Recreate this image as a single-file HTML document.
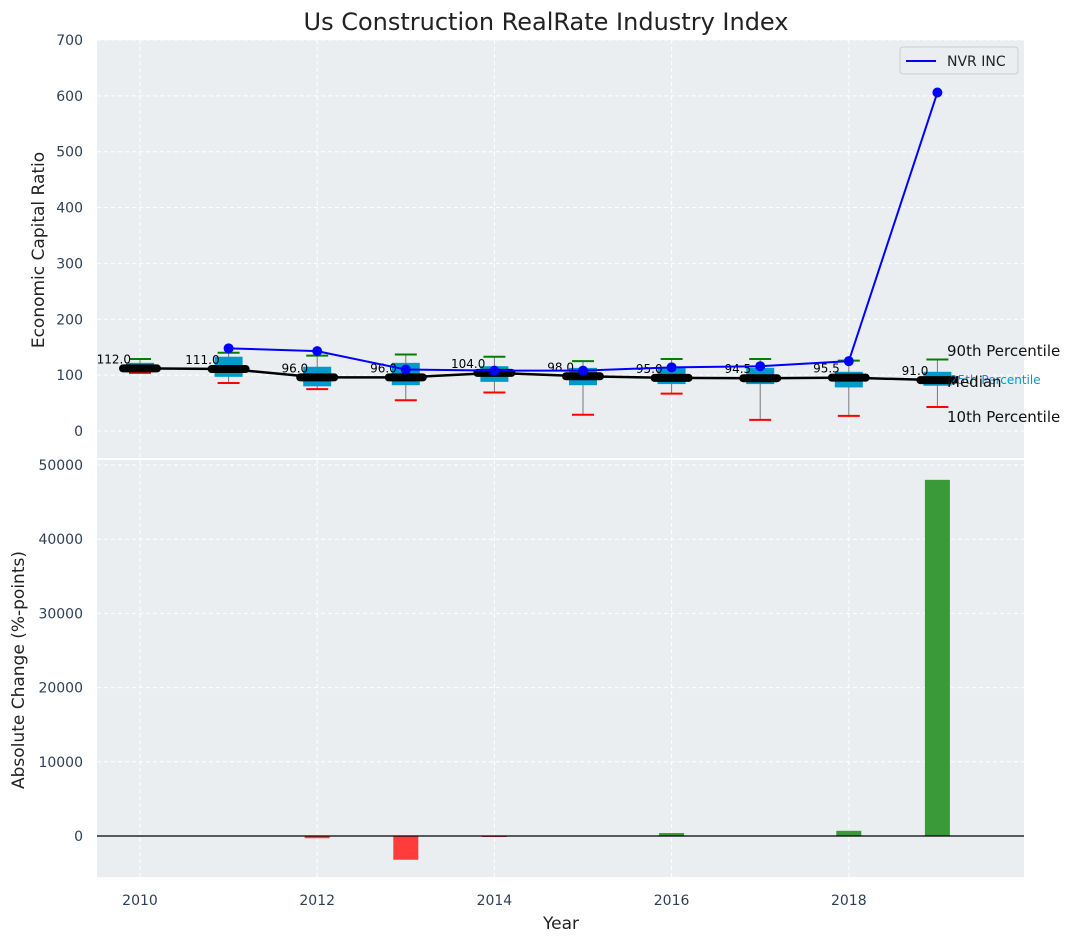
<!DOCTYPE html>
<html><head><meta charset="utf-8"><style>
body{margin:0;background:#fff;}
svg{font-family:"DejaVu Sans","Liberation Sans",sans-serif;}
</style></head><body>
<svg id="chart" width="1082" height="942" xmlns="http://www.w3.org/2000/svg">
<text x="546" y="30" font-size="24" text-anchor="middle" fill="#222">Us Construction RealRate Industry Index</text>
<rect x="97" y="40" width="927" height="418" fill="#eaeef0"/>
<rect x="97" y="460" width="927" height="417" fill="#eaeef0"/>
<g id="topG"></g>
<g id="botG"></g>
<text transform="translate(44,250) rotate(-90)" font-size="17" text-anchor="middle" fill="#222">Economic Capital Ratio</text>
<text transform="translate(24,670) rotate(-90)" font-size="17" text-anchor="middle" fill="#222">Absolute Change (%-points)</text>
<text x="561" y="929" font-size="17" text-anchor="middle" fill="#222">Year</text>
<g>
<rect x="900" y="47" width="118" height="27" rx="3" fill="#eaeef0" stroke="#ccc"/>
<line x1="906" y1="61" x2="936" y2="61" stroke="#0000ff" stroke-width="2"/>
<text x="947" y="66" font-size="14" fill="#222">NVR INC</text>
</g>
<text x="947" y="356" font-size="15" fill="#111">90th Percentile</text>
<text x="950" y="384" font-size="12" fill="#0099cc">25th Percentile</text>
<text x="947" y="387" font-size="15" fill="#111">Median</text>
<text x="947" y="422" font-size="15" fill="#111">10th Percentile</text>
</svg>
<script>
const years=[2010,2011,2012,2013,2014,2015,2016,2017,2018,2019];
const medians=[112,111,96,96,104,98,95,94.5,95.5,91];
const q1=[105,97,80,82,88,82,84,84,78,81];
const q3=[122,133,115,122,116,113,113,113,106,106];
const p10=[104,86,75,55,69,29,67,20,27,43];
const p90=[129,140,135,137,133,125,129,129,126,128];
const nvrYears=[2011,2012,2013,2014,2015,2016,2017,2018,2019];
const nvr=[148,143,110,108,108,114,116,125,606];
const changes=[0,0,-300,-3200,-100,0,400,0,700,48000];
const topTicks=[0,100,200,300,400,500,600,700];
const botTicks=[0,10000,20000,30000,40000,50000];
const xTicks=[2010,2012,2014,2016,2018];

const NS='http://www.w3.org/2000/svg';
const X=v=>140+(v-2010)*88.6;
const Y1=v=>431-v*0.5586;
const Y2=v=>836-v*0.00742;
function mk(parent,tag,attrs,text){const e=document.createElementNS(NS,tag);for(const k in attrs)e.setAttribute(k,attrs[k]);if(text!==undefined)e.textContent=text;parent.appendChild(e);return e;}
const topG=document.getElementById('topG'),botG=document.getElementById('botG');

xTicks.forEach(t=>{
 let g=mk(topG,'line',{x1:X(t),x2:X(t),y1:40,y2:458,stroke:'#fff','stroke-dasharray':'4,3'});
 
 
 let g2=mk(botG,'line',{x1:X(t),x2:X(t),y1:460,y2:877,stroke:'#fff','stroke-dasharray':'4,3'});
 
 
 let l=mk(botG,'text',{x:X(t),y:905,'font-size':14,'text-anchor':'middle',fill:'#2e4057'},t);
 
 
});
topTicks.forEach(t=>{
 let g=mk(topG,'line',{x1:97,x2:1024,y1:Y1(t),y2:Y1(t),stroke:'#fff','stroke-dasharray':'4,3'});
 
 
 let l=mk(topG,'text',{x:83,y:Y1(t)+5,'font-size':14,'text-anchor':'end',fill:'#2e4057'},t);
 
 
});
botTicks.forEach(t=>{
 let g=mk(botG,'line',{x1:97,x2:1024,y1:Y2(t),y2:Y2(t),stroke:'#fff','stroke-dasharray':'4,3'});
 
 
 let l=mk(botG,'text',{x:83,y:Y2(t)+5,'font-size':14,'text-anchor':'end',fill:'#2e4057'},t);
 
 
});

years.forEach((yr,i)=>{
 const x=X(yr);
 let w=mk(topG,'line',{x1:x,x2:x,y1:Y1(p90[i]),y2:Y1(p10[i]),stroke:'#777','stroke-width':1});
 
 
 let b=mk(topG,'rect',{x:x-14,y:Y1(q3[i]),width:28,height:Y1(q1[i])-Y1(q3[i]),fill:'#0099cc'});
 
 
 let g=mk(topG,'line',{x1:x-11,x2:x+11,y1:Y1(p90[i]),y2:Y1(p90[i]),stroke:'green','stroke-width':2});
 
 
 let r=mk(topG,'line',{x1:x-11,x2:x+11,y1:Y1(p10[i]),y2:Y1(p10[i]),stroke:'red','stroke-width':2});
 
 
});
let mp=mk(topG,'polyline',{points:years.map((y,i)=>X(y)+','+Y1(medians[i])).join(' '),fill:'none',stroke:'#000','stroke-width':2.5});


years.forEach((yr,i)=>{
 const x=X(yr);
 let m=mk(topG,'line',{x1:x-17,x2:x+17,y1:Y1(medians[i]),y2:Y1(medians[i]),stroke:'#000','stroke-width':8,'stroke-linecap':'round'});
 
 
 let t=mk(topG,'text',{x:x-9,y:Y1(medians[i])-5,'font-size':12,'text-anchor':'end',fill:'#000'},medians[i].toFixed(1));
 
 
});
let np=mk(topG,'polyline',{points:nvrYears.map((y,i)=>X(y)+','+Y1(nvr[i])).join(' '),fill:'none',stroke:'#0000ff','stroke-width':2});


nvrYears.forEach((yr,i)=>{
 let c=mk(topG,'circle',{cx:X(yr),cy:Y1(nvr[i]),r:5,fill:'#0000ff'});
 
 
});

changes.forEach((v,i)=>{
 if(v===0)return;
 const y0=Y2(0),y=Y2(v);
 let b=mk(botG,'rect',{x:X(years[i])-12.5,y:Math.min(y0,y),width:25,height:Math.max(1,Math.abs(y-y0)),fill:v>0?'#3a9a3a':'#ff3b3b'});
 
 
});
let z=mk(botG,'line',{x1:97,x2:1024,y1:Y2(0),y2:Y2(0),stroke:'#000','stroke-width':1.2});


</script>
</body></html>
